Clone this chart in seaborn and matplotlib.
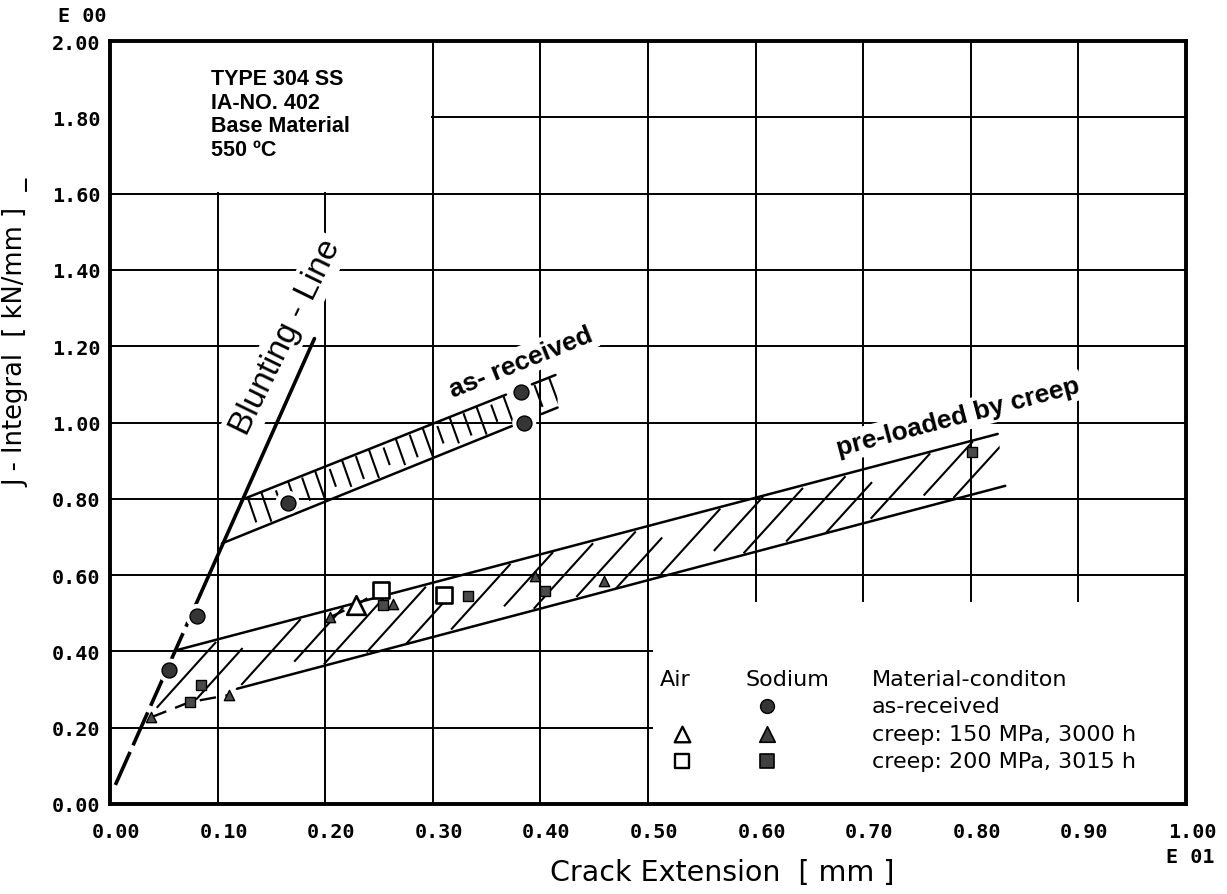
import numpy as np
import matplotlib
matplotlib.use("Agg")
import matplotlib.pyplot as plt
import matplotlib.transforms as mtransforms
from matplotlib.patches import Rectangle, Polygon
from matplotlib.ticker import MultipleLocator, FixedLocator, FixedFormatter
import seaborn as sns

# ---------------- data ----------------
x_ticks = [0.0, 0.1, 0.2, 0.3, 0.4, 0.5, 0.6, 0.7, 0.8, 0.9, 1.0]
x_tick_labels = ["0.00", "0.10", "0.20", "0.30", "0.40", "0.50",
                 "0.60", "0.70", "0.80", "0.90", "1.00"]
y_ticks = [0.0, 0.2, 0.4, 0.6, 0.8, 1.0, 1.2, 1.4, 1.6, 1.8, 2.0]
y_tick_labels = ["0.00", "0.20", "0.40", "0.60", "0.80", "1.00",
                 "1.20", "1.40", "1.60", "1.80", "2.00"]

# as-received, tested in sodium
asrec_na_x = [0.055, 0.081, 0.165, 0.382, 0.385]
asrec_na_y = [0.350, 0.493, 0.790, 1.080, 1.000]
# creep 150 MPa / 3000 h
c150_air_x = [0.229]
c150_air_y = [0.522]
c150_na_x = [0.038, 0.111, 0.204, 0.263, 0.395, 0.459]
c150_na_y = [0.227, 0.286, 0.489, 0.524, 0.598, 0.585]
# creep 200 MPa / 3015 h
c200_air_x = [0.252, 0.310]
c200_air_y = [0.561, 0.548]
c200_na_x = [0.074, 0.085, 0.254, 0.333, 0.404, 0.801]
c200_na_y = [0.267, 0.312, 0.522, 0.546, 0.559, 0.923]

# blunting line and scatter-band boundaries
blunt_x = [0.005, 0.190]
blunt_y = [0.050, 1.220]
asrec_upper_x = [0.122, 0.368]
asrec_upper_y = [0.797, 1.073]
asrec_lower_x = [0.104, 0.379]
asrec_lower_y = [0.683, 0.997]
asrec_ext_upper_x = [0.392, 0.414]
asrec_ext_lower_x = [0.401, 0.416]
creep_upper_x = [0.063, 0.825]
creep_upper_y = [0.404, 0.970]
creep_lower_x = [0.118, 0.832]
creep_lower_y = [0.302, 0.834]

# ---------------- figure ----------------
sns.set_theme(style="white")
plt.rcParams["font.family"] = ["DejaVu Sans"]
plt.rcParams["text.color"] = "black"
plt.rcParams["axes.labelcolor"] = "black"
plt.rcParams["xtick.color"] = "black"
plt.rcParams["ytick.color"] = "black"

W, H = 1227, 895
fig = plt.figure(figsize=(W / 100, H / 100), dpi=100)
ax = fig.add_axes([110 / W, (H - 805) / H, (1186 - 110) / W, (805 - 42) / H])
ax.set_xlim(0, 1.0)
ax.set_ylim(0, 2.0)
ax.set_facecolor("white")

for s in ax.spines.values():
    s.set_linewidth(2.8)
    s.set_color("black")
    s.set_zorder(6)

# grid drawn by hand so that white boxes can interrupt it
ax.vlines(x_ticks[1:-1], 0, 2.0, colors="black", lw=1.4, zorder=0.3)
ax.hlines(y_ticks[1:-1], 0, 1.0, colors="black", lw=1.4, zorder=0.3)

# white panels behind the title block and the key
ax.add_patch(Rectangle((0, 1.603), 0.2985, 0.40, fc="white", ec="none", zorder=1))
ax.add_patch(Rectangle((0.505, 0), 0.50, 0.53, fc="white", ec="none", zorder=1))

# ticks
ax.xaxis.set_major_locator(FixedLocator(x_ticks))
ax.xaxis.set_major_formatter(FixedFormatter(x_tick_labels))
ax.yaxis.set_major_locator(FixedLocator(y_ticks))
ax.yaxis.set_major_formatter(FixedFormatter(y_tick_labels))
ax.xaxis.set_minor_locator(MultipleLocator(0.01))
ax.yaxis.set_minor_locator(MultipleLocator(0.02))
ax.tick_params(which="both", direction="in", top=False, right=False,
               color="black", width=1.4, zorder=7)
ax.tick_params(which="major", length=6)
ax.tick_params(which="minor", length=5)
ax.tick_params(axis="x", which="major", pad=13)
ax.tick_params(axis="y", which="major", pad=7)
for lab in ax.get_xticklabels() + ax.get_yticklabels():
    lab.set_fontfamily("DejaVu Sans Mono")
    lab.set_fontsize(14.5)
    lab.set_fontweight("bold")
    lab.set_color("black")
shift = mtransforms.ScaledTranslation(6 / 100, 0, fig.dpi_scale_trans)
for lab in ax.get_xticklabels():
    lab.set_transform(lab.get_transform() + shift)


def line_fn(xs, ys):
    k = (ys[1] - ys[0]) / (xs[1] - xs[0])
    return lambda x: ys[0] + k * (np.asarray(x) - xs[0])


f_blunt = line_fn(blunt_x, blunt_y)
f_ar_up = line_fn(asrec_upper_x, asrec_upper_y)
f_ar_lo = line_fn(asrec_lower_x, asrec_lower_y)
f_cr_up = line_fn(creep_upper_x, creep_upper_y)
f_cr_lo = line_fn(creep_lower_x, creep_lower_y)


def seg(xs, ys, lw=1.8, ls="-", z=3):
    sns.lineplot(x=xs, y=ys, ax=ax, color="black", lw=lw, linestyle=ls,
                 sort=False, estimator=None, zorder=z, legend=False)


# blunting line: long-dashed low part, solid above
xb_mid = 0.084
seg([blunt_x[0], xb_mid], [blunt_y[0], float(f_blunt(xb_mid))], lw=2.6, ls=(0, (10, 2.0)))
seg([xb_mid, blunt_x[1]], [float(f_blunt(xb_mid)), blunt_y[1]], lw=2.6)

# band edges
seg(asrec_upper_x, asrec_upper_y)
seg(asrec_lower_x, asrec_lower_y)
seg(asrec_ext_upper_x, list(f_ar_up(asrec_ext_upper_x)))
seg(asrec_ext_lower_x, list(f_ar_lo(asrec_ext_lower_x)))
seg(creep_upper_x, creep_upper_y)
seg(creep_lower_x, creep_lower_y)

# dashed links between creep points
seg(c150_na_x[:1] + c200_na_x[:1] + c150_na_x[1:2],
    c150_na_y[:1] + c200_na_y[:1] + c150_na_y[1:2], lw=1.7, ls=(0, (7, 4)))
seg([c150_na_x[2], c150_air_x[0], c200_air_x[0]],
    [c150_na_y[2], c150_air_y[0], c200_air_y[0]], lw=1.7, ls=(0, (7, 4)))


# hatching of the two scatter bands
def hatch(f_a, f_b, starts, dx, trims, clip_xy, lw=1.5):
    clip = Polygon(clip_xy, closed=True, transform=ax.transData,
                   fc="none", ec="none")
    ax.add_patch(clip)
    for i, x0 in enumerate(starts):
        t0, t1 = trims[i % len(trims)]
        ax_, ay_ = x0, float(f_a(x0))
        bx_, by_ = x0 + dx, float(f_b(x0 + dx))
        xs = [ax_ + t0 * (bx_ - ax_), ax_ + t1 * (bx_ - ax_)]
        ys = [ay_ + t0 * (by_ - ay_), ay_ + t1 * (by_ - ay_)]
        ln, = ax.plot(xs, ys, color="black", lw=lw, zorder=2.5,
                      solid_capstyle="butt")
        ln.set_clip_path(clip)


creep_clip = [(creep_upper_x[0], creep_upper_y[0]),
              (creep_upper_x[1], creep_upper_y[1]),
              (creep_lower_x[1], creep_lower_y[1]),
              (creep_lower_x[0], creep_lower_y[0]),
              (c150_na_x[1], c150_na_y[1]),
              (c200_na_x[0], c200_na_y[0]),
              (c150_na_x[0], c150_na_y[0])]
hatch(f_cr_lo, f_cr_up, np.arange(0.041, 0.80, 0.039), 0.060,
      [(0.04, 0.96), (0.0, 0.72), (0.05, 0.97), (0.22, 0.98), (0.03, 0.95)],
      creep_clip)

ar_clip = [(asrec_lower_x[0], asrec_lower_y[0]),
           (asrec_upper_x[0], asrec_upper_y[0]),
           (0.416, float(f_ar_up(0.416))),
           (0.416, float(f_ar_lo(0.416)))]
ar_starts = list(np.arange(0.128, 0.366, 0.0125)) + [0.394, 0.408]
hatch(f_ar_up, f_ar_lo, ar_starts, 0.010,
      [(0.05, 0.8), (0.0, 0.95), (0.12, 0.7), (0.02, 0.88)], ar_clip, lw=1.5)

# data points
sns.scatterplot(x=asrec_na_x, y=asrec_na_y, ax=ax, s=300, color="white",
                edgecolor="none", zorder=4, legend=False)
sns.scatterplot(x=asrec_na_x, y=asrec_na_y, ax=ax, marker="o", s=115,
                color="#353535", edgecolor="black", linewidth=1, zorder=5,
                legend=False)
sns.scatterplot(x=c150_air_x, y=c150_air_y, ax=ax, marker="^", s=180,
                color="white", edgecolor="black", linewidth=1.9, zorder=5,
                legend=False)
sns.scatterplot(x=c150_na_x, y=c150_na_y, ax=ax, marker="^", s=55,
                color="#4a4a4a", edgecolor="black", linewidth=1.0, zorder=5,
                legend=False)
sns.scatterplot(x=c200_air_x, y=c200_air_y, ax=ax, marker="s", s=130,
                color="white", edgecolor="black", linewidth=1.9, zorder=5,
                legend=False)
sns.scatterplot(x=c200_na_x, y=c200_na_y, ax=ax, marker="s", s=42,
                color="#4a4a4a", edgecolor="black", linewidth=1.0, zorder=5,
                legend=False)


# annotations
def angle(xs, ys):
    p = ax.transData.transform(np.column_stack([xs, ys]))
    return np.degrees(np.arctan2(p[1, 1] - p[0, 1], p[1, 0] - p[0, 0]))


box = dict(boxstyle="square,pad=0.12", fc="white", ec="none")
ax.text(0.163, 1.225, "Blunting - Line", rotation=angle(blunt_x, blunt_y) - 2,
        rotation_mode="anchor", ha="center", va="center", fontsize=24,
        family="Liberation Sans", bbox=box, zorder=1.5)
ax.text(0.382, 1.16, "as- received", rotation=angle(asrec_lower_x, asrec_lower_y),
        rotation_mode="anchor", ha="center", va="center", fontsize=19,
        family="Liberation Sans", weight="bold", bbox=box, zorder=1.5)
ax.text(0.788, 1.015, "pre-loaded by creep", rotation=angle(creep_upper_x, creep_upper_y),
        rotation_mode="anchor", ha="center", va="center", fontsize=19,
        family="Liberation Sans", weight="bold", bbox=box, zorder=1.5)
ax.text(0.094, 1.93, "TYPE 304 SS\nIA-NO. 402\nBase Material\n550 ºC",
        ha="left", va="top", fontsize=15.5, family="Liberation Sans",
        weight="bold", linespacing=1.18, zorder=2)

# key
key_font = dict(fontsize=16, family="DejaVu Sans", va="center", zorder=2)
key_rows = [0.328, 0.257, 0.183, 0.113]
ax.text(0.511, key_rows[0], "Air", ha="left", **key_font)
ax.text(0.591, key_rows[0], "Sodium", ha="left", **key_font)
ax.text(0.708, key_rows[0], "Material-conditon", ha="left", **key_font)
ax.text(0.708, key_rows[1], "as-received", ha="left", **key_font)
ax.text(0.708, key_rows[2], "creep: 150 MPa, 3000 h", ha="left", **key_font)
ax.text(0.708, key_rows[3], "creep: 200 MPa, 3015 h", ha="left", **key_font)
sns.scatterplot(x=[0.611], y=[key_rows[1]], ax=ax, marker="o", s=100,
                color="#353535", edgecolor="black", linewidth=1, zorder=5, legend=False)
sns.scatterplot(x=[0.532], y=[key_rows[2]], ax=ax, marker="^", s=125,
                color="white", edgecolor="black", linewidth=1.7, zorder=5, legend=False)
sns.scatterplot(x=[0.611], y=[key_rows[2]], ax=ax, marker="^", s=125,
                color="#404040", edgecolor="black", linewidth=1.2, zorder=5, legend=False)
sns.scatterplot(x=[0.532], y=[key_rows[3]], ax=ax, marker="s", s=95,
                color="white", edgecolor="black", linewidth=1.7, zorder=5, legend=False)
sns.scatterplot(x=[0.611], y=[key_rows[3]], ax=ax, marker="s", s=95,
                color="#404040", edgecolor="black", linewidth=1.2, zorder=5, legend=False)

ax.set_xlabel("")
ax.set_ylabel("")

# axis titles and exponent markers
fig.text(16 / W, 1 - 333 / H, "J - Integral  [ kN/mm ]  _", rotation=90,
         ha="center", va="center", fontsize=18.5, color="black")
fig.text(722 / W, 1 - 873 / H, "Crack Extension  [ mm ]", ha="center",
         va="center", fontsize=20.5, color="black")
fig.text(82 / W, 1 - 17 / H, "E 00", ha="center", va="center",
         fontsize=14.5, weight="bold", family="DejaVu Sans Mono", color="black")
fig.text(1190 / W, 1 - 858 / H, "E 01", ha="center", va="center",
         fontsize=14.5, weight="bold", family="DejaVu Sans Mono", color="black")

fig.savefig("out.png", dpi=100, facecolor="white")
